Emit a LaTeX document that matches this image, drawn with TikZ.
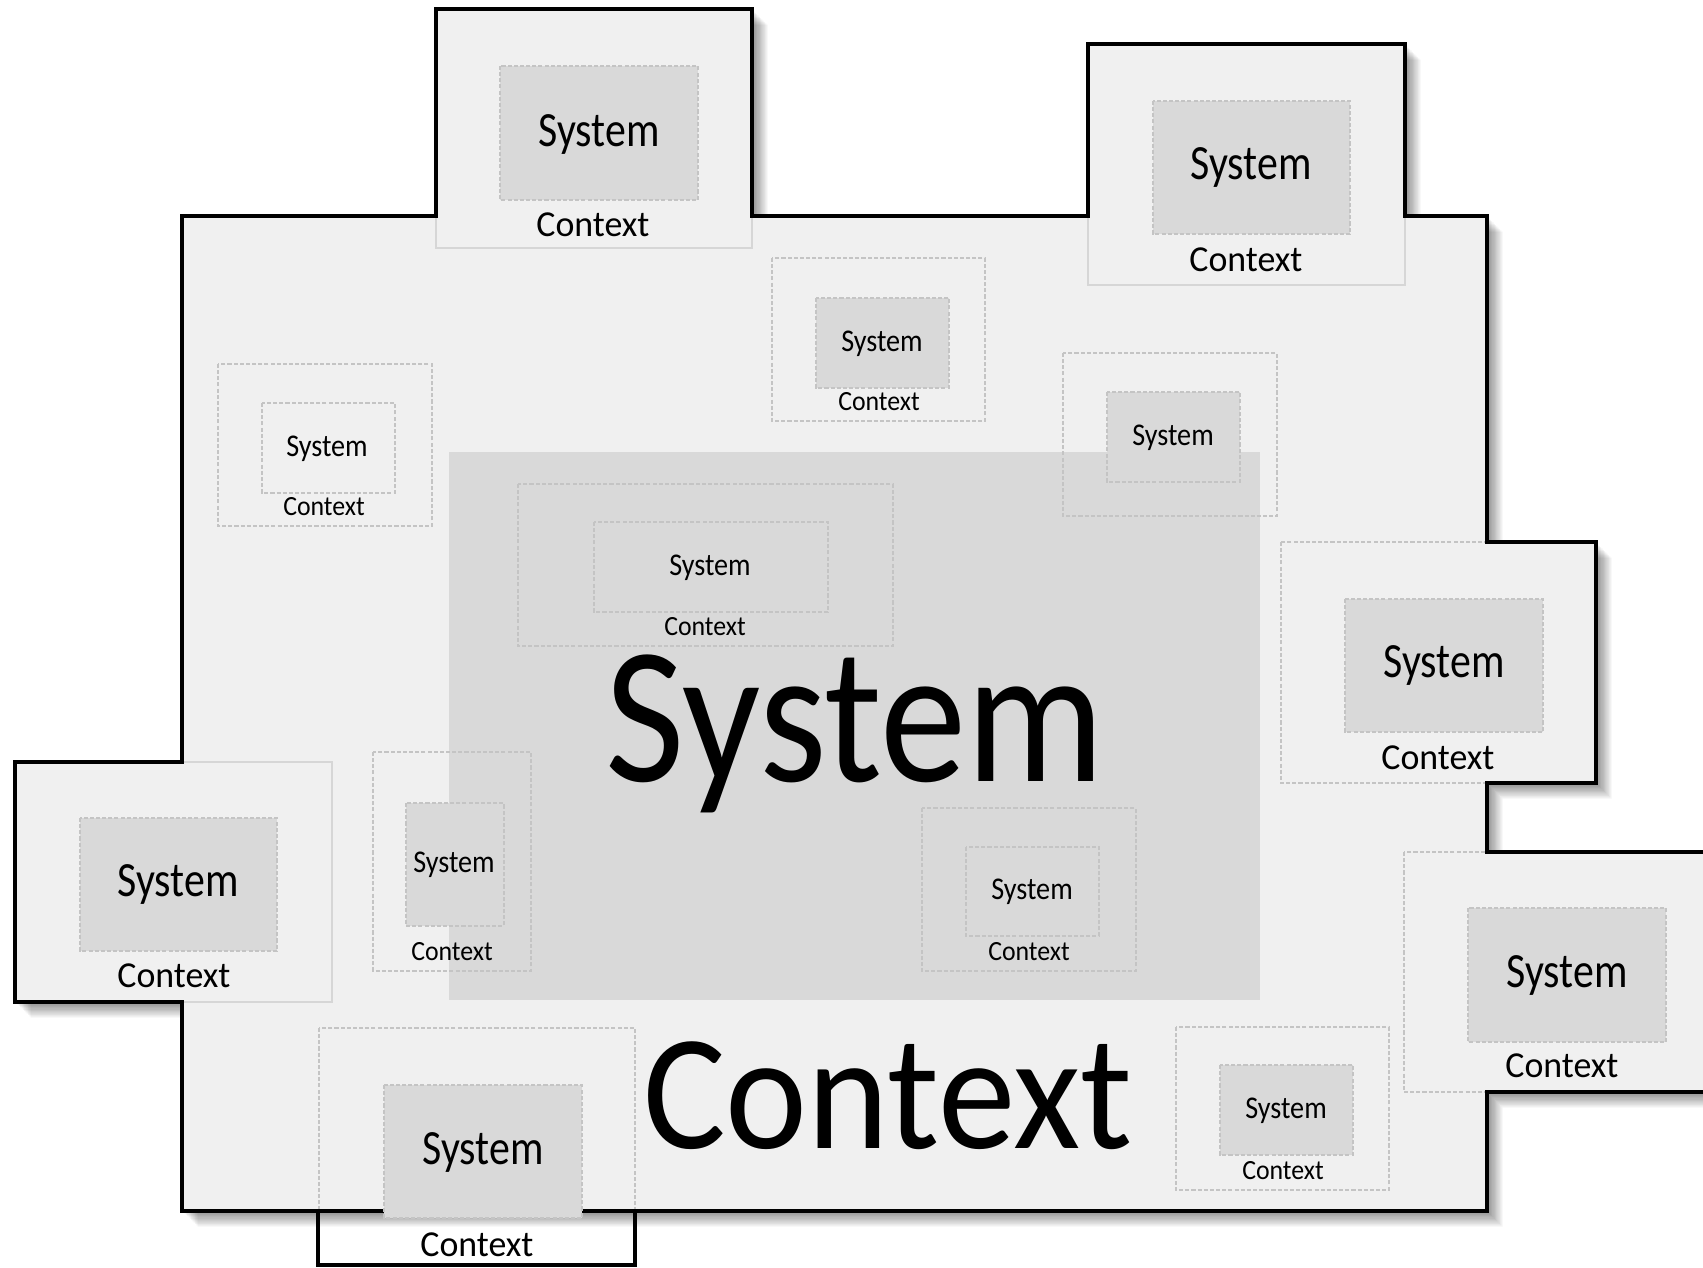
\documentclass[tikz,border=0pt]{standalone}
\usepackage{fontspec}
\setmainfont{Carlito}
\newfontfamily\sysfA{Carlito}[FakeStretch=0.885]
\newfontfamily\sysfB{Carlito}[FakeStretch=0.85]
\newfontfamily\sysfC{Carlito}[FakeStretch=0.89]
\newfontfamily\ctxfA{Carlito}[FakeStretch=0.943]
\newfontfamily\ctxfB{Carlito}[FakeStretch=0.98]
\newfontfamily\ctxfC{Carlito}[FakeStretch=0.93]
\definecolor{ctxfill}{HTML}{F0F0F0}
\definecolor{sysfill}{HTML}{D9D9D9}
\definecolor{dashc}{HTML}{C4C4C4}
\definecolor{framec}{HTML}{D6D6D6}
\newcommand\outlinepath{(182,216) -- (436,216) -- (436,9) -- (752,9) -- (752,216) -- (1088,216) -- (1088,44) -- (1405,44) -- (1405,216) -- (1487,216) -- (1487,542) -- (1596,542) -- (1596,783) -- (1487,783) -- (1487,852) -- (1780,852) -- (1780,1092) -- (1487,1092) -- (1487,1211) -- (182,1211) -- (182,1002) -- (15,1002) -- (15,762) -- (182,762) -- cycle}
\tikzset{
  outl/.style={draw=black, line width=1.15pt, line join=miter},
  framesolid/.style={draw=framec, line width=0.75pt},
  framedash/.style={draw=dashc, line width=0.5pt, dash pattern=on 1.15pt off 0.6pt},
  sysbox/.style={fill=sysfill, draw=dashc, line width=0.5pt, dash pattern=on 1.15pt off 0.6pt},
  sysboxe/.style={draw=dashc, line width=0.5pt, dash pattern=on 1.15pt off 0.6pt},
  lbl/.style={anchor=base, inner sep=0pt, text=black},
  bigsys/.style={lbl, text height=1.28cm, font=\sysfA\fontsize{55.5}{58}\selectfont},
  bigctx/.style={lbl, font=\ctxfA\fontsize{46.8}{50}\selectfont},
  medsys/.style={lbl, font=\sysfB\fontsize{14}{16}\selectfont},
  medctx/.style={lbl, font=\ctxfB\fontsize{10.4}{12}\selectfont},
  smlsys/.style={lbl, font=\sysfC\fontsize{9}{11}\selectfont},
  smlctx/.style={lbl, font=\ctxfC\fontsize{7.9}{9}\selectfont},
}
\begin{document}
\begin{tikzpicture}[x=0.01cm, y=-0.01cm]
\path[use as bounding box] (0,0) rectangle (1703,1268);
\begin{scope}
\clip (0,0) rectangle (1703,1268);
% bottom tab (white)
\draw[outl, fill=white] (318,1200) rectangle (635,1265);
% shadow
\foreach \k in {1,...,12} {
  \fill[black, opacity=0.045, shift={(\k*1.3,\k*1.3)}] \outlinepath;
}
% main context fill
\fill[ctxfill] \outlinepath;
% big system area
\fill[sysfill] (449,452) rectangle (1260,1000);
% context frames
\draw[framesolid] (436,9) rectangle (752,248);
\draw[framesolid] (1088,44) rectangle (1405,285);
\draw[framesolid] (15,762) rectangle (332,1002);
\draw[framedash] (1281,542) rectangle (1596,783);
\draw[framedash] (1404,852) rectangle (1780,1092);
\draw[framedash] (319,1028) rectangle (635,1211);
\draw[framedash] (772,258) rectangle (985,421);
\draw[framedash] (218,364) rectangle (432,526);
\draw[framedash] (1063,353) rectangle (1277,516);
\draw[framedash] (518,484) rectangle (893,646);
\draw[framedash] (373,752) rectangle (531,971);
\draw[framedash] (922,808) rectangle (1136,971);
\draw[framedash] (1176,1027) rectangle (1389,1190);
% black outline on top
\draw[outl] \outlinepath;
\draw[outl] (318,1211) -- (318,1265) -- (635,1265) -- (635,1211);
% system boxes
\draw[sysbox] (500,66) rectangle (698,200);
\draw[sysbox] (1153,101) rectangle (1350,234);
\draw[sysbox] (80,818) rectangle (277,951);
\draw[sysbox] (1345,599) rectangle (1543,732);
\draw[sysbox] (1468,908) rectangle (1666,1042);
\draw[sysbox] (384,1085) rectangle (582,1218);
\draw[sysbox] (816,298) rectangle (949,388);
\draw[sysbox] (1107,392) rectangle (1240,482);
\draw[sysbox] (406,803) rectangle (504,926);
\draw[sysbox] (966,847) rectangle (1099,936);
\draw[sysbox] (1220,1065) rectangle (1353,1155);
\draw[sysboxe] (262,403) rectangle (395,493);
\draw[sysboxe] (594,522) rectangle (828,612);
% big labels
\node[bigsys] (bigS) at (855,782) {System};
\node[bigctx] (bigC) at (888,1149) {Context};
% medium labels
\node[medsys] (sT1) at (599,147) {System};
\node[medctx] (cT1) at (593,237) {Context};
\node[medsys] (sT2) at (1251,180) {System};
\node[medctx] (cT2) at (1246,272) {Context};
\node[medsys] (sL) at (178,897) {System};
\node[medctx] (cL) at (174,988) {Context};
\node[medsys] (sR1) at (1444,678) {System};
\node[medctx] (cR1) at (1438,770) {Context};
\node[medsys] (sR2) at (1567,988) {System};
\node[medctx] (cR2) at (1562,1078) {Context};
\node[medsys] (sB) at (483,1165) {System};
\node[medctx] (cB) at (477,1256) {Context};
% small labels
\node[smlsys] (s7) at (882,352) {System};
\node[smlctx] (c7) at (879,411) {Context};
\node[smlsys] (s8) at (327,457) {System};
\node[smlctx] (c8) at (324,516) {Context};
\node[smlsys] (s9) at (1173,446) {System};
\node[smlsys] (s10) at (710,576) {System};
\node[smlctx] (c10) at (705,636) {Context};
\node[smlsys] (s11) at (454,873) {System};
\node[smlctx] (c11) at (452,961) {Context};
\node[smlsys] (s12) at (1032,900) {System};
\node[smlctx] (c12) at (1029,961) {Context};
\node[smlsys] (s13) at (1286,1119) {System};
\node[smlctx] (c13) at (1283,1180) {Context};
\end{scope}
\end{tikzpicture}
\end{document}
